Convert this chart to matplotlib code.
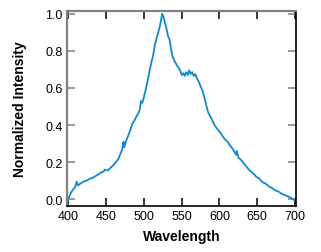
import numpy as np
import matplotlib.pyplot as plt

plt.rcParams['font.family'] = ['Liberation Sans', 'DejaVu Sans']

# spectrum
wavelength = [400, 401, 403, 405, 408, 410, 411, 413, 416, 420, 424, 428, 432, 436,
              440, 444, 447, 448, 452, 456, 460, 464, 466, 468, 471, 473, 474, 477,
              480, 483, 485, 487, 490, 493, 495, 496, 498, 500, 503, 505, 508, 510,
              512, 515, 517, 519, 521, 523, 524, 526, 528, 530, 532, 534, 536, 538,
              540, 542, 544, 546, 548, 550, 552, 554, 556, 558, 560, 562, 564, 566,
              568, 570, 572, 574, 576, 578, 580, 583, 585, 588, 590, 593, 596, 599,
              602, 605, 608, 611, 614, 617, 620, 622, 623, 625, 628, 631, 634, 637,
              640, 643, 646, 649, 652, 655, 658, 661, 664, 667, 670, 673, 676, 679,
              682, 685, 688, 691, 694, 697, 700]
intensity = [0.00, 0.01, 0.03, 0.045, 0.06, 0.075, 0.095, 0.075, 0.085, 0.095, 0.10,
             0.11, 0.115, 0.125, 0.135, 0.145, 0.15, 0.16, 0.155, 0.17, 0.185, 0.205,
             0.215, 0.235, 0.265, 0.31, 0.28, 0.32, 0.35, 0.385, 0.41, 0.42, 0.445,
             0.465, 0.49, 0.53, 0.52, 0.55, 0.60, 0.64, 0.70, 0.74, 0.77, 0.84, 0.87,
             0.90, 0.93, 0.97, 1.00, 0.985, 0.95, 0.92, 0.88, 0.86, 0.81, 0.77, 0.75,
             0.735, 0.72, 0.71, 0.695, 0.67, 0.68, 0.665, 0.685, 0.67, 0.695, 0.675,
             0.685, 0.665, 0.675, 0.655, 0.64, 0.62, 0.60, 0.58, 0.55, 0.50, 0.47,
             0.445, 0.43, 0.405, 0.385, 0.37, 0.355, 0.335, 0.32, 0.31, 0.29, 0.275,
             0.255, 0.24, 0.26, 0.225, 0.215, 0.20, 0.185, 0.17, 0.155, 0.145, 0.135,
             0.12, 0.115, 0.10, 0.09, 0.085, 0.075, 0.065, 0.06, 0.05, 0.045, 0.04,
             0.03, 0.025, 0.02, 0.015, 0.01, 0.00, -0.005]

xticks = [400, 450, 500, 550, 600, 650, 700]
yticks = [0.0, 0.2, 0.4, 0.6, 0.8, 1.0]

fig = plt.figure(figsize=(3.21, 2.53), dpi=100)
ax = fig.add_axes([0.2087, 0.182, 0.922 - 0.2087, 0.9526 - 0.182])

ax.plot(wavelength, intensity, color='#1089cf', lw=1.3)

ax.set_xlim(398.3, 701.3)
ax.set_ylim(-0.036, 1.015)
ax.set_xticks(xticks)
ax.set_yticks(yticks)
ax.set_yticklabels(['%.1f' % v for v in yticks])

ax.tick_params(direction='in', length=5.8, width=1.1, labelsize=9, pad=3,
               top=True, right=True, labelcolor='black')
ax.tick_params(axis='y', colors='#808080', labelcolor='black')

for side in ['left', 'top']:
    ax.spines[side].set_color('#808080')
    ax.spines[side].set_linewidth(1.6)
for side in ['right', 'bottom']:
    ax.spines[side].set_color('black')
    ax.spines[side].set_linewidth(1.2)

ax.set_xlabel('Wavelength', fontsize=10, fontweight='bold', labelpad=5)
ax.set_ylabel('Normalized Intensity', fontsize=10, fontweight='bold', labelpad=13)

fig.savefig('out.png', dpi=100)
